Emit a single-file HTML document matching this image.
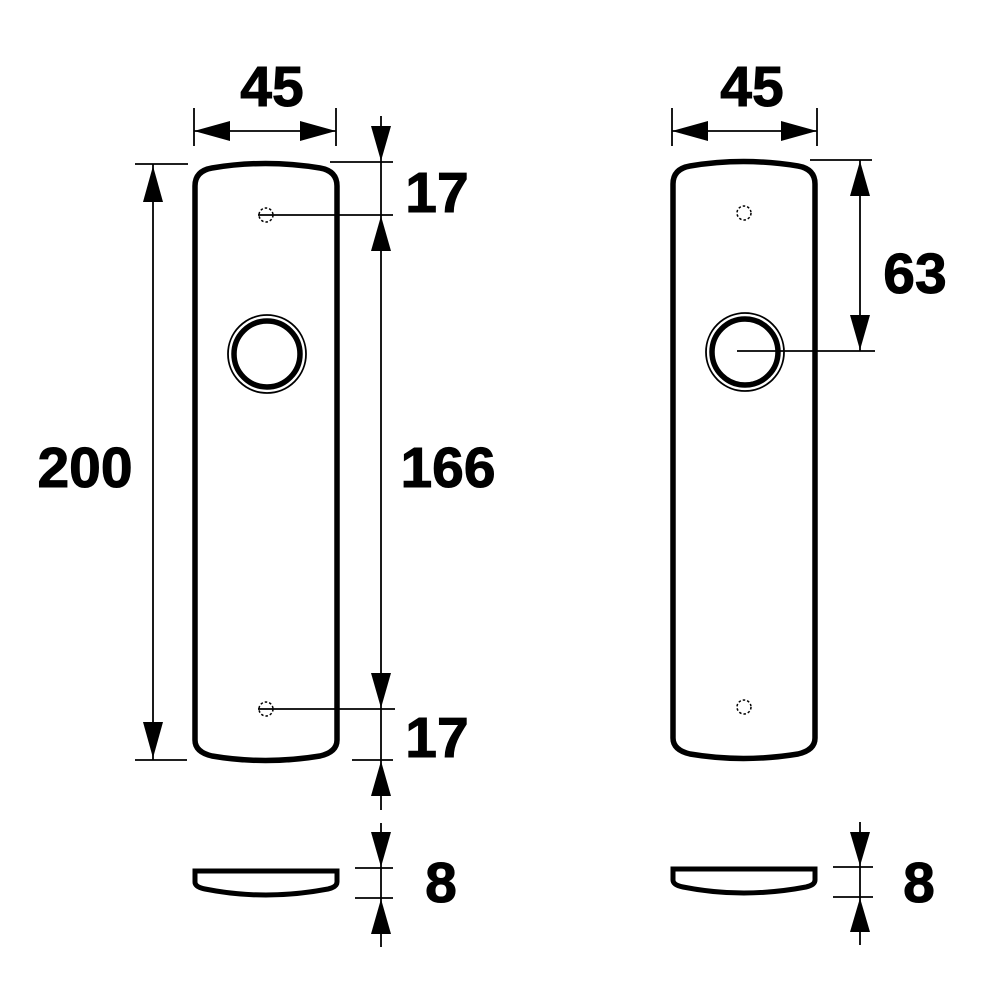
<!DOCTYPE html>
<html><head><meta charset="utf-8"><style>html,body{margin:0;padding:0;background:#fff}svg{display:block}text{font-family:"Liberation Sans",sans-serif;font-weight:bold;fill:#000;stroke:#000;stroke-width:1}</style></head>
<body>
<svg width="1000" height="1000" viewBox="0 0 1000 1000" xmlns="http://www.w3.org/2000/svg">
<defs>
<g id="plate">
<path d="M195,740 L195,186 Q195,171 212,168 Q265,159 320,168 Q337,171 337,186 L337,740 Q337,752 320,756 Q265,765 212,756 Q195,752 195,740 Z" fill="none" stroke="#000" stroke-width="5.5"/>
<circle cx="267" cy="354" r="39" fill="none" stroke="#000" stroke-width="1.8"/>
<circle cx="267" cy="354" r="33" fill="none" stroke="#000" stroke-width="5.5"/>
<circle cx="266" cy="215" r="7" fill="none" stroke="#000" stroke-width="1.5" stroke-dasharray="2.5,2"/>
<circle cx="266" cy="709" r="7" fill="none" stroke="#000" stroke-width="1.5" stroke-dasharray="2.5,2"/>
<path d="M195,871 L337,871 L337,882 Q337,887 328,889 Q265,901 205,889 Q195,887 195,882 Z" fill="none" stroke="#000" stroke-width="5"/>
</g>
</defs>
<use href="#plate"/>
<use href="#plate" transform="translate(478,-2)"/>
<g stroke="#000" stroke-width="1.8" fill="none">
<line x1="194" y1="108" x2="194" y2="146"/><line x1="336" y1="108" x2="336" y2="146"/>
<line x1="194" y1="131" x2="336" y2="131"/>
<line x1="672" y1="108" x2="672" y2="146"/><line x1="817" y1="108" x2="817" y2="146"/>
<line x1="672" y1="131" x2="817" y2="131"/>
<line x1="135" y1="164" x2="188" y2="164"/><line x1="135" y1="760" x2="187" y2="760"/>
<line x1="153" y1="164" x2="153" y2="760"/>
<line x1="381" y1="116" x2="381" y2="810"/>
<line x1="330" y1="162" x2="393" y2="162"/>
<line x1="258" y1="215" x2="393" y2="215"/>
<line x1="258" y1="709" x2="395" y2="709"/>
<line x1="352" y1="760" x2="393" y2="760"/>
<line x1="381" y1="823" x2="381" y2="947"/>
<line x1="355" y1="868" x2="393" y2="868"/><line x1="355" y1="898" x2="393" y2="898"/>
<line x1="810" y1="160" x2="872" y2="160"/>
<line x1="737" y1="351" x2="875" y2="351"/>
<line x1="860" y1="160" x2="860" y2="351"/>
<line x1="860" y1="822" x2="860" y2="945"/>
<line x1="833" y1="867" x2="873" y2="867"/><line x1="833" y1="897" x2="873" y2="897"/>
</g>
<g fill="#000">
<polygon points="194,131 230,121 230,141"/><polygon points="336,131 300,121 300,141"/>
<polygon points="672,131 708,121 708,141"/><polygon points="817,131 781,121 781,141"/>
<polygon points="153,166 143,202 163,202"/><polygon points="153,758 143,722 163,722"/>
<polygon points="381,161 371,126 391,126"/><polygon points="381,216 371,251 391,251"/>
<polygon points="381,708 371,673 391,673"/><polygon points="381,761 371,796 391,796"/>
<polygon points="381,867 371,832 391,832"/><polygon points="381,899 371,934 391,934"/>
<polygon points="860,161 850,196 870,196"/><polygon points="860,350 850,315 870,315"/>
<polygon points="860,866 850,832 870,832"/><polygon points="860,898 850,932 870,932"/>
</g>
<text x="272" y="106" font-size="57" text-anchor="middle">45</text>
<text x="752" y="106" font-size="57" text-anchor="middle">45</text>
<text x="85" y="487" font-size="57" text-anchor="middle">200</text>
<text x="448" y="487" font-size="57" text-anchor="middle">166</text>
<text x="437" y="212" font-size="57" text-anchor="middle">17</text>
<text x="437" y="757" font-size="57" text-anchor="middle">17</text>
<text x="441" y="902" font-size="57" text-anchor="middle">8</text>
<text x="915" y="293" font-size="57" text-anchor="middle">63</text>
<text x="919" y="902" font-size="57" text-anchor="middle">8</text>
</svg>
</body></html>
